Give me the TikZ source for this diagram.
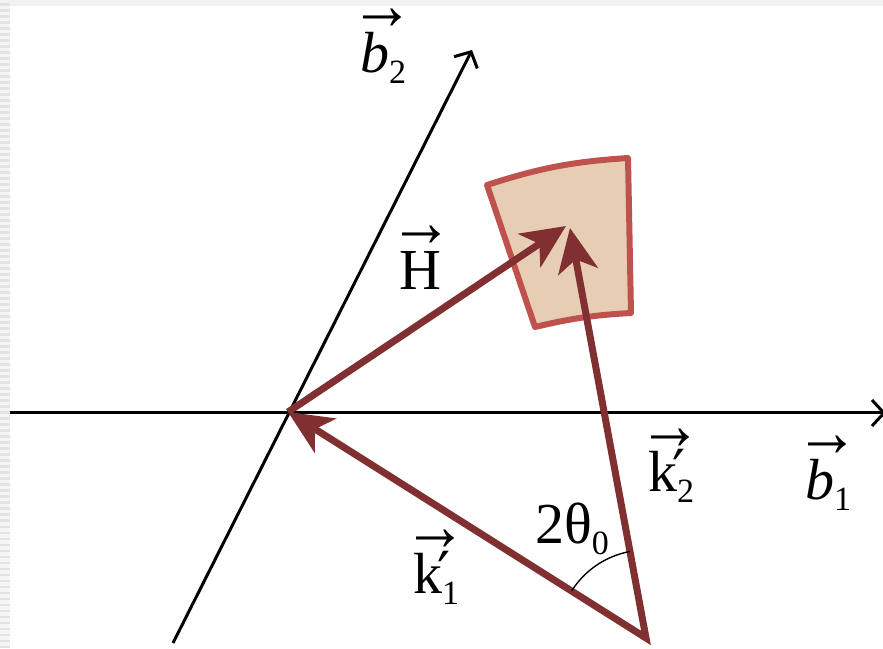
\documentclass[tikz,border=0pt]{standalone}
\usepackage{graphicx}
\usepackage{fontspec}
\setmainfont{Liberation Serif}
\newfontfamily\arrowfont{DejaVu Sans}
\usetikzlibrary{arrows.meta}
\definecolor{vecred}{RGB}{128,48,48}
\definecolor{regfill}{RGB}{230,205,180}
\definecolor{regline}{RGB}{192,82,78}
\newcommand\vecbar{\rlap{\hspace{-10pt}\raisebox{43pt}{\scalebox{1.1}[1.25]{→}}}}
\newcommand\subsc[1]{\raisebox{-11pt}{\fontsize{34}{34}\selectfont #1}}
\newcommand\primemark{\rlap{\hspace{-5pt}{\arrowfont ′}}}
\begin{document}
\begin{tikzpicture}[x=1pt,y=1pt,
  axis/.style={line width=3pt, -{Straight Barb[length=12pt,width=26pt]}},
  vectip/.tip={Stealth[length=44pt,width=40pt,inset=12pt]},
  vec/.style={draw=vecred, line width=7pt},
  lbl/.style={inner sep=0pt, anchor=base west, font=\fontsize{58}{64}\selectfont}]
\useasboundingbox (0,0) rectangle (883,648);
\clip (0,0) rectangle (883,648);
% slide background edge
\fill[gray!8] (0,0) rectangle (10,648);
\fill[gray!10] (0,642) rectangle (883,648);
\foreach \yy in {0,6,...,642} \fill[gray!22] (0,\yy) rectangle (10,\yy+2.5);
% points
\coordinate (O) at (288,236);
\coordinate (B1s) at (10,235);
\coordinate (B1e) at (886,235);
\coordinate (B2s) at (173,5);
\coordinate (B2e) at (472,598);
\coordinate (V) at (646,10);
\coordinate (HT) at (566,422);
\coordinate (KT) at (570,420);
% region
\draw[regline, fill=regfill, line width=6pt, line join=round]
  (487,463) to[bend left=7] (628,490) -- (631,335) to[bend right=5] (535,321) -- cycle;
% axes
\draw[axis] (B1s) -- (B1e);
\draw[axis] (B2s) -- (B2e);
% vectors
\draw[vec, -vectip] (O) -- (HT);
\draw[vec, line join=miter, vectip-vectip] (O) -- (V) -- (KT);
% angle arc
\draw[line width=1.4pt] ([shift={(100.5:88)}]V) arc[start angle=100.5, end angle=147.5, radius=88];
% labels
\node[lbl] (Hl) at (399,358) {\vecbar H};
\node[lbl] (b2l) at (360,575) {\vecbar\textit{b}\subsc{2}};
\node[lbl] (b1l) at (805,148) {\vecbar\textit{b}\subsc{1}};
\node[lbl] (k2l) at (648,156) {\vecbar k\primemark\subsc{2}};
\node[lbl] (k1l) at (413,55) {\vecbar k\primemark\subsc{1}};
\node[lbl] (thl) at (535,105) {2θ\subsc{0}};
\end{tikzpicture}
\end{document}
